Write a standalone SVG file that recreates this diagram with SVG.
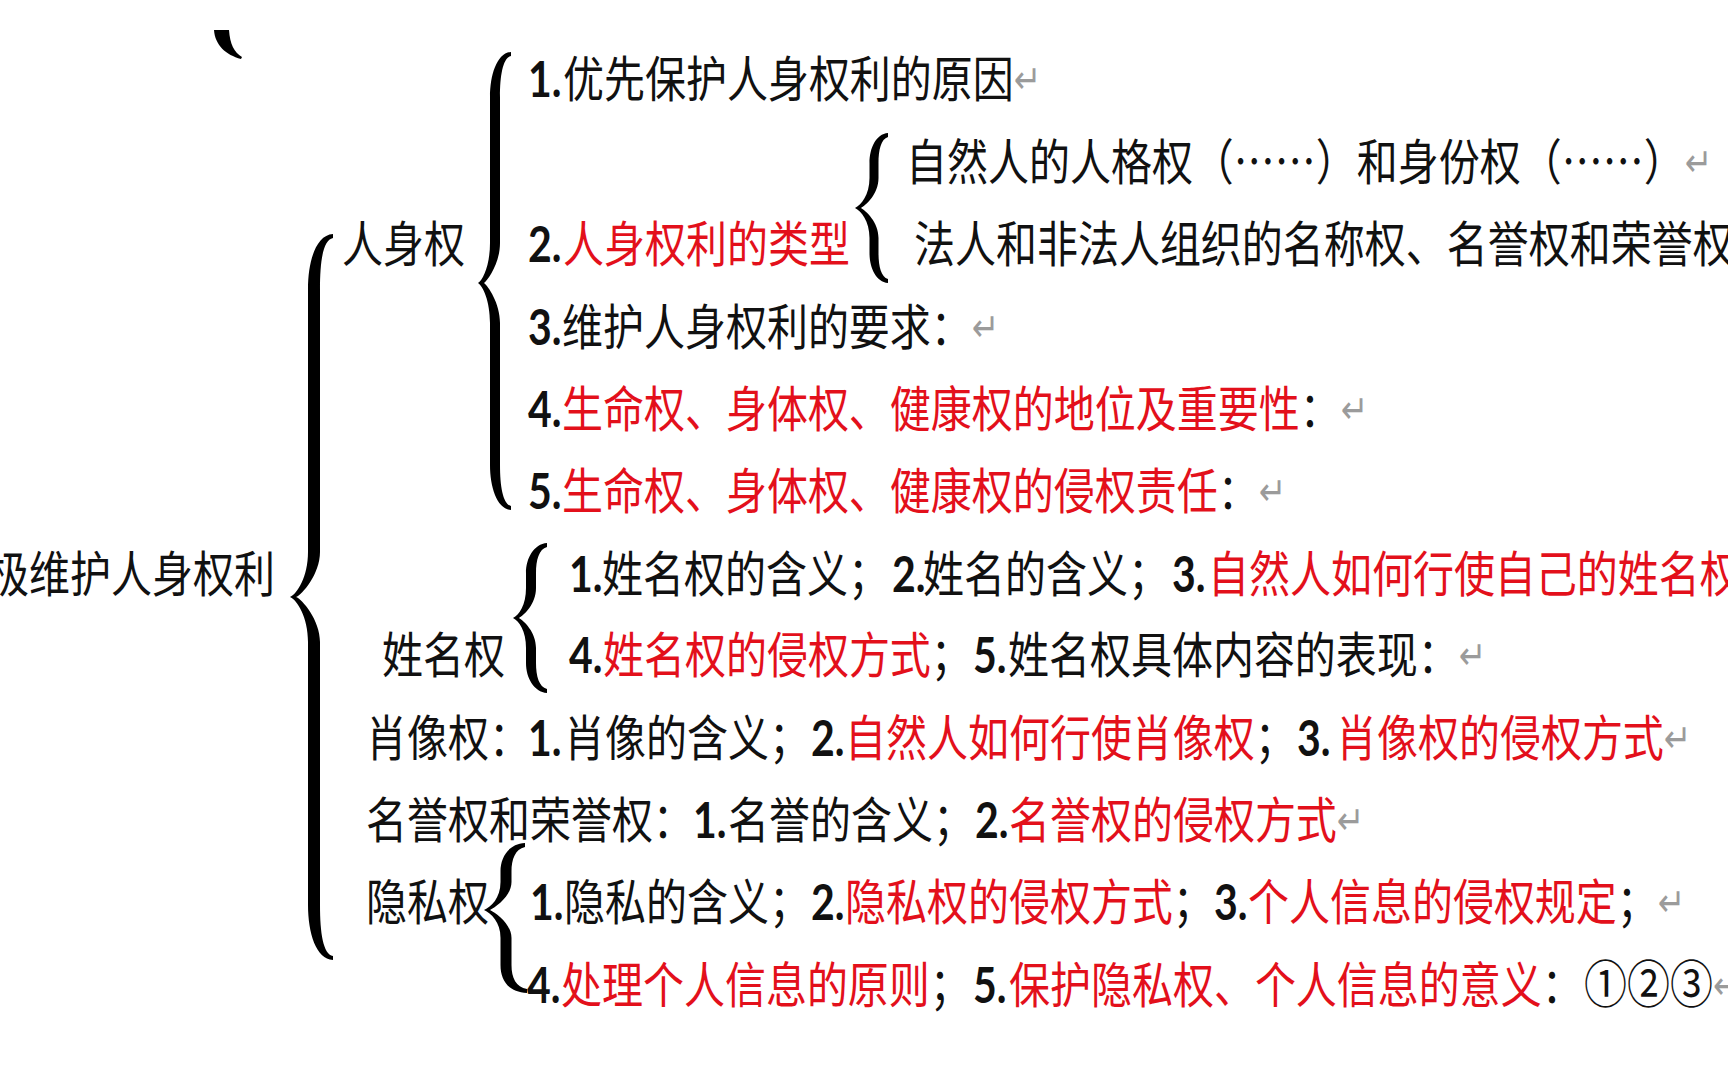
<svg xmlns="http://www.w3.org/2000/svg" width="1728" height="1080" viewBox="0 0 1728 1080">
<style>
text { font-family: "Noto Sans CJK SC", sans-serif; font-size: 41px; fill: #111; }
.n { font-family: Lato, "Liberation Sans", sans-serif; font-weight: 700; fill: #111; }
.r { fill: #e3101b; }
.p { font-family: "DejaVu Sans", sans-serif; font-size: 33px; fill: #9b9b9b; }
.c { font-size: 43px; }
.brace { fill: #000; }
</style>
<rect width="1728" height="1080" fill="#fff"/>
<g id="connectors">
  <path class="brace" d="M214,30 L229,30 C230,44 234,52 242,57 L241,59 C226,55 215,45 214,30 Z"/>
  <path id="brace-root" class="brace" d="M333,234 C316,235 308,261 308,289 L308,552 C308,577 297,594 290,597 C297,600 308,617 308,642 L308,905 C308,933 316,959 333,960 L333,956 C323,954 320,933 320,905 L320,642 C320,620 302,599 296,597 C302,595 320,574 320,552 L320,289 C320,261 323,240 333,238 Z"/>
  <path id="brace-renshen" class="brace" d="M511,52 C497,53 490,75 490,97 L490,243 C490,265 483,280 478,283 C483,286 490,301 490,323 L490,465 C490,487 497,509 511,510 L511,506 C503,504 500,487 500,465 L500,323 C500,303 488,286 484,283 C488,280 500,263 500,243 L500,97 C500,75 503,58 511,56 Z"/>
  <path id="brace-leixing" class="brace" d="M888,133 C876,134 869.5,148 869.5,163 L869.5,178 C869.5,195 861,205 855,208 C861,211 869.5,221 869.5,238 L869.5,253 C869.5,268 876,282 888,283 L888,279 C881,277 878.5,266 878.5,253 L878.5,238 C878.5,222 866,211 861,208 C866,205 878.5,194 878.5,178 L878.5,163 C878.5,150 881,139 888,137 Z"/>
  <path id="brace-xingming" class="brace" d="M547,543 C534,544 526,558 526,573 L526,588 C526,605 519,615 513,618 C519,621 526,631 526,648 L526,663 C526,678 534,692 547,693 L547,689 C539,687 536,676 536,663 L536,648 C536,632 524,621 519,618 C524,615 536,604 536,588 L536,573 C536,560 539,549 547,547 Z"/>
  <path id="brace-yinsi" class="brace" d="M525,843 C508,844 500.5,858 500.5,871 L500.5,882 C500.5,898 491,907 484,910 C491,913 500.5,922 500.5,938 L500.5,965 C500.5,980 508,992 527,993 L527,989 C516,987 511.5,978 511.5,965 L511.5,938 C511.5,924 496,913 490,910 C496,907 511.5,896 511.5,882 L511.5,871 C511.5,860 515,849 525,847 Z"/>
</g>

<g id="root" transform="translate(0,592) scale(1,1.2)"><text x="-12" y="0">极维护人身权利</text></g>

<g id="renshen" transform="translate(0,262) scale(1,1.2)"><text x="342" y="0">人身权</text></g>
<g id="rs-1" transform="translate(0,97) scale(1,1.2)"><text y="0"><tspan class="n" x="528">1.</tspan><tspan x="563">优先保护人身权利的原因</tspan><tspan class="p" dy="-3">↵</tspan></text></g>
<g id="rs-2" transform="translate(0,262) scale(1,1.2)"><text y="0"><tspan class="n" x="528">2.</tspan><tspan class="r" x="563">人身权利的类型</tspan></text></g>
<g id="rs-2a" transform="translate(0,180) scale(1,1.2)"><text y="0"><tspan x="906">自然人的人格权（……）和身份权（……）</tspan><tspan class="p" dy="-3">↵</tspan></text></g>
<g id="rs-2b" transform="translate(0,262) scale(1,1.2)"><text x="914" y="0">法人和非法人组织的名称权、名誉权和荣誉权</text></g>
<g id="rs-3" transform="translate(0,345) scale(1,1.2)"><text y="0"><tspan class="n" x="528">3.</tspan><tspan x="562">维护人身权利的要求：</tspan><tspan class="p" dy="-3">↵</tspan></text></g>
<g id="rs-4" transform="translate(0,427) scale(1,1.2)"><text y="0"><tspan class="n" x="528">4.</tspan><tspan class="r" x="562">生命权、身体权、健康权的地位及重要性</tspan><tspan>：</tspan><tspan class="p" dy="-3">↵</tspan></text></g>
<g id="rs-5" transform="translate(0,509) scale(1,1.2)"><text y="0"><tspan class="n" x="528">5.</tspan><tspan class="r" x="562">生命权、身体权、健康权的侵权责任</tspan><tspan>：</tspan><tspan class="p" dy="-3">↵</tspan></text></g>

<g id="xingming" transform="translate(0,673) scale(1,1.2)"><text x="382" y="0">姓名权</text></g>
<g id="xm-1" transform="translate(0,592) scale(1,1.2)"><text y="0"><tspan class="n" x="569">1.</tspan><tspan x="602">姓名权的含义；</tspan><tspan class="n" x="892">2.</tspan><tspan x="923">姓名的含义；</tspan><tspan class="n" x="1172">3.</tspan><tspan class="r" x="1208">自然人如何行使自己的姓名权</tspan></text></g>
<g id="xm-2" transform="translate(0,673) scale(1,1.2)"><text y="0"><tspan class="n" x="569">4.</tspan><tspan class="r" x="603">姓名权的侵权方式</tspan><tspan>；</tspan><tspan class="n" x="973">5.</tspan><tspan x="1008">姓名权具体内容的表现：</tspan><tspan class="p" dy="-3">↵</tspan></text></g>

<g id="xiaoxiang" transform="translate(0,756) scale(1,1.2)"><text y="0"><tspan x="366">肖像权：</tspan><tspan class="n" x="528">1.</tspan><tspan x="564">肖像的含义；</tspan><tspan class="n" x="811">2.</tspan><tspan class="r" x="845">自然人如何行使肖像权</tspan><tspan>；</tspan><tspan class="n" x="1297">3.</tspan><tspan class="r" x="1336">肖像权的侵权方式</tspan><tspan class="p" dy="-3">↵</tspan></text></g>

<g id="mingyu" transform="translate(0,838) scale(1,1.2)"><text y="0"><tspan x="366">名誉权和荣誉权：</tspan><tspan class="n" x="693">1.</tspan><tspan x="728">名誉的含义；</tspan><tspan class="n" x="975">2.</tspan><tspan class="r" x="1009">名誉权的侵权方式</tspan><tspan class="p" dy="-3">↵</tspan></text></g>

<g id="yinsi" transform="translate(0,920) scale(1,1.2)"><text x="366" y="0">隐私权</text></g>
<g id="ys-1" transform="translate(0,920) scale(1,1.2)"><text y="0"><tspan class="n" x="530">1.</tspan><tspan x="564">隐私的含义；</tspan><tspan class="n" x="811">2.</tspan><tspan class="r" x="845">隐私权的侵权方式</tspan><tspan>；</tspan><tspan class="n" x="1214">3.</tspan><tspan class="r" x="1248">个人信息的侵权规定</tspan><tspan>；</tspan><tspan class="p" dy="-3">↵</tspan></text></g>
<g id="ys-2" transform="translate(0,1003) scale(1,1.2)"><text y="0"><tspan class="n" x="527">4.</tspan><tspan class="r" x="561">处理个人信息的原则</tspan><tspan>；</tspan><tspan class="n" x="973">5.</tspan><tspan class="r" x="1009">保护隐私权、个人信息的意义</tspan><tspan>：</tspan><tspan class="c" x="1584">①②③</tspan><tspan class="p" dy="-3">↵</tspan></text></g>
</svg>
